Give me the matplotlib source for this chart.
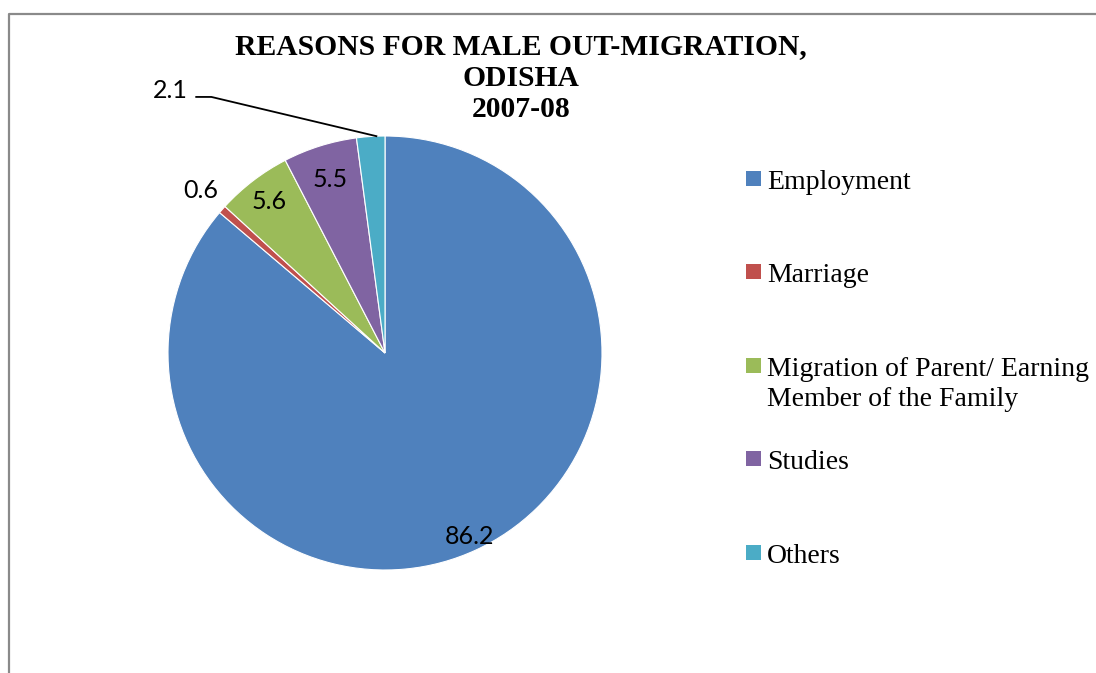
import numpy as np
import matplotlib.pyplot as plt
from matplotlib.lines import Line2D
from matplotlib.patches import Rectangle

# Reasons for male out-migration, Odisha 2007-08 (per cent)
reasons = ['Employment', 'Marriage',
           'Migration of Parent/ Earning\nMember of the Family',
           'Studies', 'Others']
shares = [86.2, 0.6, 5.6, 5.5, 2.1]
colours = ['#4F81BD', '#C0504D', '#9BBB59', '#8064A2', '#4BACC6']

W, H = 1096, 673
fig = plt.figure(figsize=(W / 100, H / 100), dpi=100)

# chart frame (top and left edges visible)
fig.add_artist(Line2D([9 / W, 9 / W, 1.0], [0.0, 1 - 14 / H, 1 - 14 / H],
                      color='#8a8a8a', lw=1.6))

# pie axes: centre (385, 353) px, radius 217 px
cx, cy, r = 385, 353, 217
ax = fig.add_axes([(cx - r) / W, (H - cy - r) / H, 2 * r / W, 2 * r / H])
wedges, _ = ax.pie(shares, colors=colours, startangle=90, counterclock=False,
                   radius=1.0, wedgeprops=dict(edgecolor='white', linewidth=0.8))
ax.set_xlim(-1, 1)
ax.set_ylim(-1, 1)
ax.set_aspect('equal')
ax.axis('off')

# value labels, distance from centre per slice
dist = [0.93, 1.13, 0.88, 0.84]
lab_font = dict(family='Lato', fontsize=18, color='black')
for w, v, d in zip(wedges[:4], shares[:4], dist):
    ang = np.deg2rad((w.theta1 + w.theta2) / 2)
    ax.text(d * np.cos(ang), d * np.sin(ang), f'{v:.1f}',
            ha='center', va='center', clip_on=False, **lab_font)

# small "Others" slice labelled outside with a leader line
w = wedges[4]
ang = np.deg2rad((w.theta1 + w.theta2) / 2 - 1.5)
ex, ey = np.cos(ang), np.sin(ang)
tx, ty = -0.99, 1.21
ax.text(tx, ty, f'{shares[4]:.1f}', ha='center', va='center',
        clip_on=False, **lab_font)
ax.add_line(Line2D([tx + 0.12, tx + 0.19, ex], [ty - 0.03, ty - 0.03, ey],
                   color='black', lw=1.3, clip_on=False))

# title
fig.text(521 / W, 1 - 33 / H,
         'REASONS FOR MALE OUT-MIGRATION,\nODISHA\n2007-08',
         ha='center', va='top', family='Liberation Serif', weight='bold',
         fontsize=21.3, linespacing=1.22)

# legend
tops = [170, 263, 357, 450, 544]
for name, col, top in zip(reasons, colours, tops):
    fig.add_artist(Rectangle((746 / W, 1 - (top + 16) / H), 15 / W, 15 / H,
                             facecolor=col, edgecolor='none'))
    fig.text(767 / W, 1 - top / H, name, ha='left', va='top',
             family='Liberation Serif', fontsize=20, linespacing=1.27)

fig.savefig('out.png', dpi=100)
